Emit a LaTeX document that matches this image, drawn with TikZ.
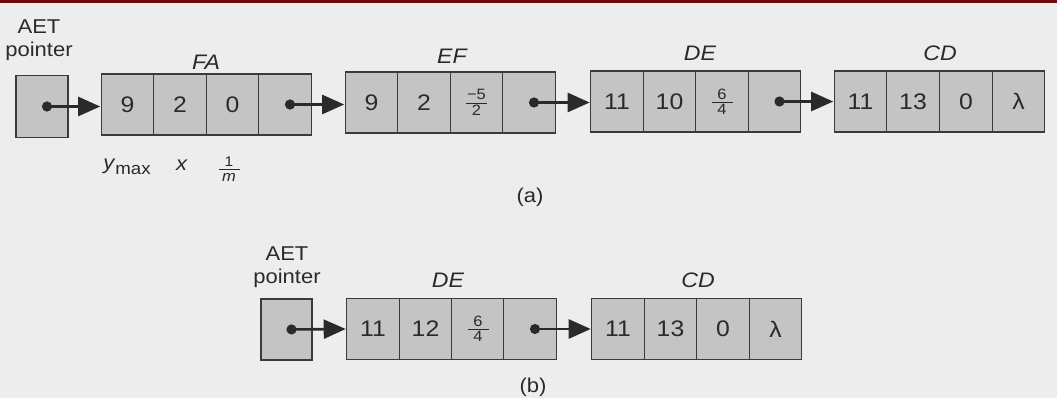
\documentclass[tikz,border=0pt]{standalone}
\usepackage{fontspec}
\setmainfont[FakeStretch=1.1]{Liberation Sans}
\usepackage{amsmath}
\usetikzlibrary{arrows.meta}
\definecolor{bg}{HTML}{EDEDED}
\definecolor{cellgray}{HTML}{C4C4C4}
\definecolor{edge}{HTML}{3A3A3A}
\definecolor{topred}{HTML}{6E0A0A}
\definecolor{ink}{HTML}{2A2A2A}
\newcommand\fracx[2]{$\genfrac{}{}{0.8pt}{}{\makebox[21pt]{\fontsize{15}{15}\selectfont #1}}{\makebox[21pt]{\fontsize{15}{15}\selectfont #2}}$}
\tikzset{
  cell/.style={draw=edge, line width=1.1pt, fill=cellgray, minimum width=52.5pt, minimum height=61pt, inner sep=0pt, text=ink, font=\fontsize{22.5}{22.5}\selectfont},
  ptrbox/.style={draw=edge, line width=1.1pt, fill=cellgray, minimum width=52pt, minimum height=62pt, inner sep=0pt},
  ptr/.style={line width=2.6pt, draw=ink, {Circle[length=10pt]}-{Triangle[length=22pt,width=19pt]}, shorten >=0.5pt},
  reclabel/.style={font=\fontsize{21}{21}\selectfont\itshape, text=ink},
  plain/.style={font=\fontsize{20}{23}\selectfont, text=ink, align=center},
  sub/.style={font=\fontsize{20}{20}\selectfont, text=ink}
}
\begin{document}
\begin{tikzpicture}[x=1pt,y=-1pt]
\useasboundingbox (0,0) rectangle (1057,398);
\fill[bg] (0,0) rectangle (1057,398);
\fill[topred] (0,0) rectangle (1057,3);

% ---------- (a) ----------
\node[plain] (aetA) at (39,40) {AET\\pointer};
\node[ptrbox] (pA) at (42,106.5) {};

\node[reclabel] (lFA) at (206,62) {FA};
\node[cell] (fa1) at (127.5,104.5) {9};
\node[cell] (fa2) at (180,104.5) {2};
\node[cell] (fa3) at (232.5,104.5) {0};
\node[cell] (fa4) at (285,104.5) {};

\node[reclabel] (lEF) at (452,56) {EF};
\node[cell] (ef1) at (371.5,102.5) {9};
\node[cell] (ef2) at (424,102.5) {2};
\node[cell] (ef3) at (476.5,102.5) {\fracx{−5}{2}};
\node[cell] (ef4) at (529,102.5) {};

\node[reclabel] (lDE) at (700,53) {DE};
\node[cell] (de1) at (617,101.5) {11};
\node[cell] (de2) at (669.5,101.5) {10};
\node[cell] (de3) at (722,101.5) {\fracx{6}{4}};
\node[cell] (de4) at (774.5,101.5) {};

\node[reclabel] (lCD) at (940,53) {CD};
\node[cell] (cd1) at (860.5,101.5) {11};
\node[cell] (cd2) at (913,101.5) {13};
\node[cell] (cd3) at (966,101.5) {0};
\node[cell] (cd4) at (1018.5,101.5) {λ};

\node[sub] (ymax) at (127,167) {\textit{y}\raisebox{-5pt}{\fontsize{17}{17}\selectfont max}};
\node[sub] (xlab) at (182,165) {\textit{x}};
\node[sub] (mlab) at (229,169) {$\genfrac{}{}{0.8pt}{}{\makebox[21pt]{\fontsize{14}{14}\selectfont 1}}{\makebox[21pt]{\fontsize{15}{15}\selectfont\itshape m}}$};

\node[plain] (capA) at (530,197) {(a)};

\draw[ptr] (pA.center) -- (fa1.west |- pA.center);
\draw[ptr] (fa4.center) -- (ef1.west |- fa4.center);
\draw[ptr] (ef4.center) -- (de1.west |- ef4.center);
\draw[ptr] (de4.center) -- (cd1.west);

% ---------- (b) ----------
\node[plain] (aetB) at (287,267) {AET\\pointer};
\node[ptrbox, minimum width=51pt, minimum height=61pt] (pB) at (286.5,329.5) {};

\node[reclabel] (lDEb) at (448,280) {DE};
\node[cell] (bde1) at (373,329) {11};
\node[cell] (bde2) at (425.5,329) {12};
\node[cell] (bde3) at (478,329) {\fracx{6}{4}};
\node[cell] (bde4) at (530,329) {};

\node[reclabel] (lCDb) at (698,280) {CD};
\node[cell] (bcd1) at (618,329) {11};
\node[cell] (bcd2) at (670.5,329) {13};
\node[cell] (bcd3) at (723,329) {0};
\node[cell] (bcd4) at (775.5,329) {λ};

\node[plain] (capB) at (533,387) {(b)};

\draw[ptr] (pB.center) -- (bde1.west);
\draw[ptr] (bde4.center) -- (bcd1.west);
\end{tikzpicture}
\end{document}
